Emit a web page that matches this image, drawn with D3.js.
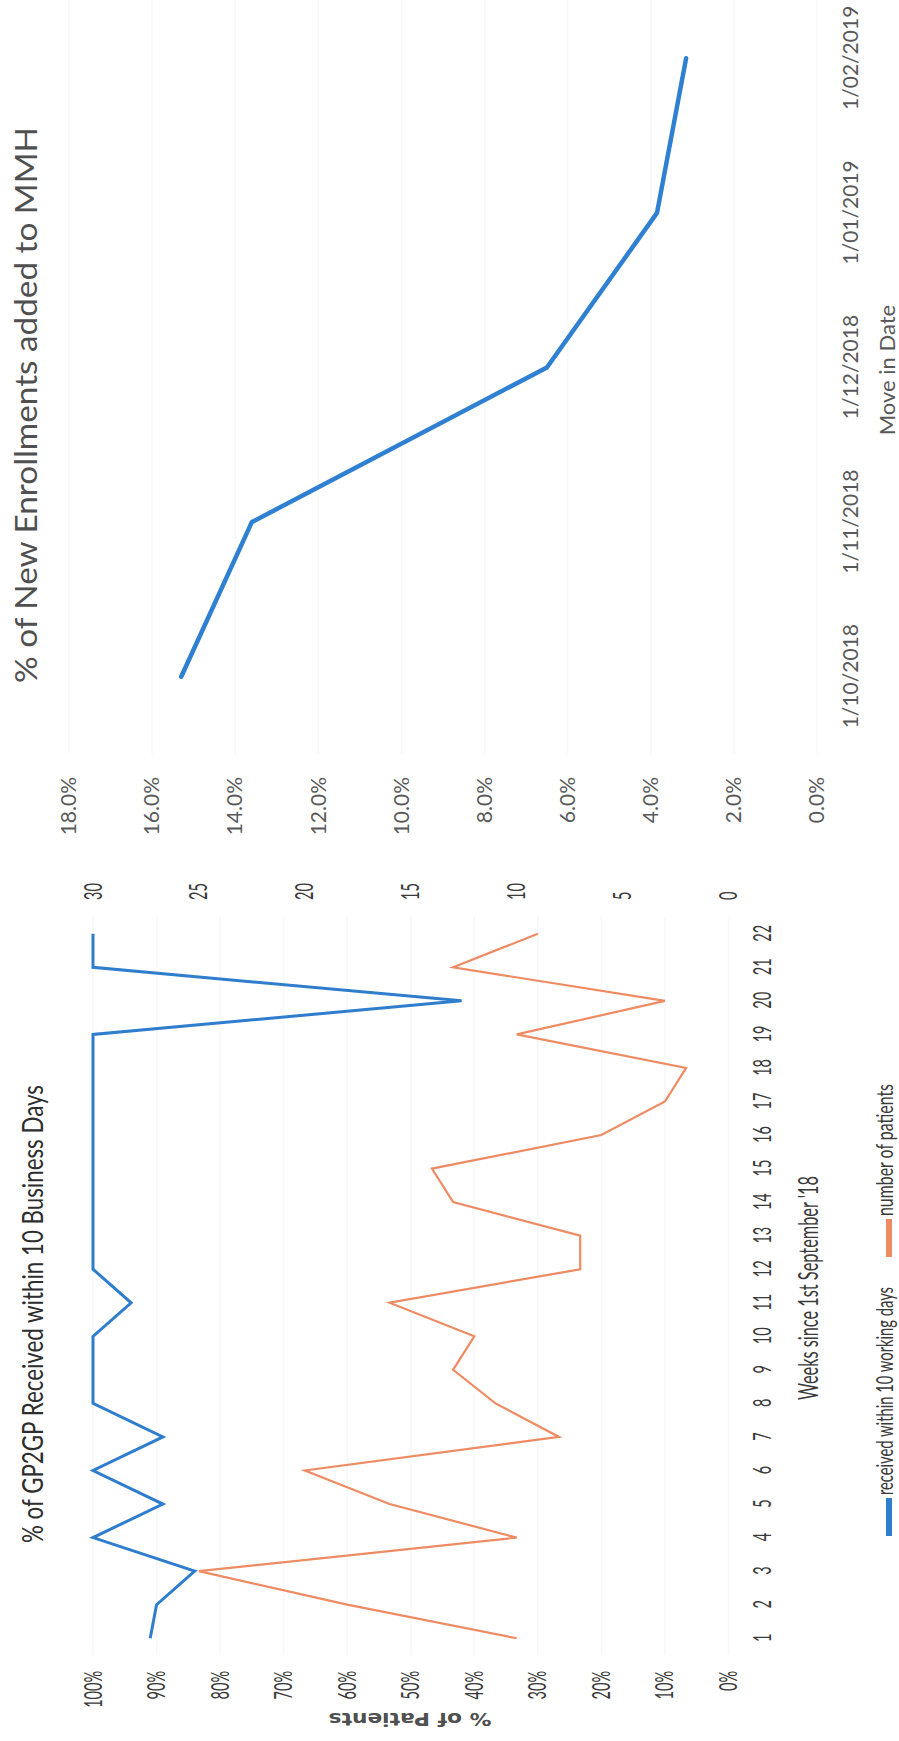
<!DOCTYPE html>
<html>
<head>
<meta charset="utf-8">
<script src="https://cdn.jsdelivr.net/npm/d3@7"></script>
<style>
  html, body { margin: 0; padding: 0; background: #ffffff; }
  svg { display: block; }
</style>
</head>
<body>
<svg id="page" width="899" height="1741"></svg>
<script>
// ---- GP2GP chart data ----
const weekLabels = ["1","2","3","4","5","6","7","8","9","10","11","12","13","14","15","16","17","18","19","20","21","22"];
const pctReceived = [91, 90, 84, 100, 89, 100, 89, 100, 100, 100, 94, 100, 100, 100, 100, 100, 100, 100, 100, 42, 100, 100];
const patientCounts = [10, 18, 25, 10, 16, 20, 8, 11, 13, 12, 16, 7, 7, 13, 14, 6, 3, 2, 10, 3, 13, 9];
const pctTicks = [0, 10, 20, 30, 40, 50, 60, 70, 80, 90, 100];
const countTicks = [0, 5, 10, 15, 20, 25, 30];

// ---- New enrolments chart data ----
const moveInDates = ["1/10/2018", "1/11/2018", "1/12/2018", "1/01/2019", "1/02/2019"];
const enrolmentPct = [15.3, 13.6, 6.5, 3.85, 3.15];
const enrolTicks = [0, 2, 4, 6, 8, 10, 12, 14, 16, 18];

const BLUE = "#2f7dcd";
const ORANGE = "#ee8b63";
const TEXT_DARK = "#3a3a3a";
const TEXT_GREY = "#595959";
const GRID = "#f8f8f8";

// The page is laid out landscape (1741 wide, 899 tall) and turned a quarter turn.
const svg = d3.select("#page");
const page = svg.append("g").attr("transform", "translate(0,1741) rotate(-90)");

// =================== Left chart: GP2GP ===================
const gp = page.append("g");
const xWeek = d3.scalePoint().domain(weekLabels).range([86, 824]).padding(0.5);
const yPct = d3.scaleLinear().domain([0, 100]).range([728.5, 93]);
const yCnt = d3.scaleLinear().domain([0, 30]).range([728.5, 93]);

// horizontal gridlines (very faint)
gp.append("g").selectAll("line").data(pctTicks).join("line")
  .attr("x1", 86).attr("x2", 824)
  .attr("y1", d => yPct(d)).attr("y2", d => yPct(d))
  .attr("stroke", GRID).attr("stroke-width", 1.5);

const squeeze = 0.58;
function styleTicks(g, size, anchor) {
  g.select(".domain").remove();
  g.selectAll("text")
    .attr("font-family", "Lato, 'Open Sans', sans-serif")
    .attr("font-size", size)
    .attr("fill", TEXT_DARK)
    .attr("transform", `scale(${squeeze},1)`);
  if (anchor) g.selectAll("text").attr("text-anchor", anchor);
}

// left % axis
gp.append("g")
  .attr("transform", "translate(70,0)")
  .call(d3.axisLeft(yPct).tickValues(pctTicks).tickFormat(d => d + "%").tickSize(0).tickPadding(0))
  .call(g => styleTicks(g, 25, "end"));

// right count axis
gp.append("g")
  .attr("transform", "translate(841,0)")
  .call(d3.axisRight(yCnt).tickValues(countTicks).tickSize(0).tickPadding(0))
  .call(g => styleTicks(g, 25, "start"));

// week axis
gp.append("g")
  .attr("transform", "translate(0,728.5)")
  .call(d3.axisBottom(xWeek).tickSize(0).tickPadding(25))
  .call(g => styleTicks(g, 25, "middle"));

// series lines
const lineCnt = d3.line()
  .x((d, i) => xWeek(weekLabels[i]))
  .y(d => yCnt(d));
const linePct = d3.line()
  .x((d, i) => xWeek(weekLabels[i]))
  .y(d => yPct(d));

gp.append("path").datum(patientCounts)
  .attr("d", lineCnt)
  .attr("fill", "none").attr("stroke", ORANGE)
  .attr("stroke-width", 2.2).attr("stroke-linejoin", "miter");

gp.append("path").datum(pctReceived)
  .attr("d", linePct)
  .attr("fill", "none").attr("stroke", BLUE)
  .attr("stroke-width", 3).attr("stroke-linejoin", "miter");

// title
gp.append("text")
  .attr("x", 198).attr("y", 43)
  .attr("font-family", "Lato, 'Open Sans', sans-serif")
  .attr("font-size", 29)
  .attr("fill", "#2e2e2e")
  .attr("textLength", 458).attr("lengthAdjust", "spacingAndGlyphs")
  .text("% of GP2GP Received within 10 Business Days");

// y axis title
gp.append("text")
  .attr("transform", "translate(28,410) rotate(-90)")
  .attr("text-anchor", "middle")
  .attr("font-family", "'DejaVu Sans', Verdana, sans-serif")
  .attr("font-weight", "bold")
  .attr("font-size", 17)
  .attr("fill", "#505050")
  .attr("textLength", 163).attr("lengthAdjust", "spacingAndGlyphs")
  .text("% of Patients");

// x axis title
gp.append("text")
  .attr("x", 453).attr("y", 818)
  .attr("text-anchor", "middle")
  .attr("font-family", "Lato, 'Open Sans', sans-serif")
  .attr("font-size", 26)
  .attr("fill", TEXT_DARK)
  .attr("textLength", 224).attr("lengthAdjust", "spacingAndGlyphs")
  .text("Weeks since 1st September '18");

// legend
const legendItems = [
  { label: "received within 10 working days", color: BLUE, u0: 205, len: 208 },
  { label: "number of patients", color: ORANGE, u0: 484, len: 132 }
];
const leg = gp.append("g");
leg.selectAll("line").data(legendItems).join("line")
  .attr("x1", d => d.u0).attr("x2", d => d.u0 + 38)
  .attr("y1", 889).attr("y2", 889)
  .attr("stroke", d => d.color).attr("stroke-width", 6);
leg.selectAll("text").data(legendItems).join("text")
  .attr("x", d => d.u0 + 41).attr("y", 893)
  .attr("font-family", "Lato, 'Open Sans', sans-serif")
  .attr("font-size", 23)
  .attr("fill", TEXT_DARK)
  .attr("textLength", d => d.len).attr("lengthAdjust", "spacingAndGlyphs")
  .text(d => d.label);

// =================== Right chart: new enrolments ===================
const en = page.append("g");
const xDate = d3.scalePoint().domain(moveInDates).range([987, 1760]).padding(0.5);
const yEnr = d3.scaleLinear().domain([0, 18]).range([817, 69]);

en.append("g").selectAll("line").data(enrolTicks).join("line")
  .attr("x1", 987).attr("x2", 1741)
  .attr("y1", d => yEnr(d)).attr("y2", d => yEnr(d))
  .attr("stroke", GRID).attr("stroke-width", 1.5);

en.append("g")
  .attr("transform", "translate(964,0)")
  .call(d3.axisLeft(yEnr).tickValues(enrolTicks).tickFormat(d => d3.format(".1f")(d) + "%").tickSize(0).tickPadding(0))
  .call(g => {
    g.select(".domain").remove();
    g.selectAll("text")
      .attr("font-family", "Lato, 'Open Sans', sans-serif")
      .attr("font-size", 21)
      .attr("fill", TEXT_GREY);
  });

en.append("g")
  .attr("transform", "translate(0,817)")
  .call(d3.axisBottom(xDate).tickSize(0).tickPadding(26))
  .call(g => {
    g.select(".domain").remove();
    g.selectAll("text")
      .attr("font-family", "Lato, 'Open Sans', sans-serif")
      .attr("font-size", 21)
      .attr("fill", TEXT_GREY);
  });

en.append("path").datum(enrolmentPct)
  .attr("d", d3.line().x((d, i) => xDate(moveInDates[i])).y(d => yEnr(d)))
  .attr("fill", "none").attr("stroke", "#3080d2")
  .attr("stroke-width", 4.5)
  .attr("stroke-linejoin", "round").attr("stroke-linecap", "round");

en.append("text")
  .attr("x", 1058).attr("y", 37)
  .attr("font-family", "Lato, 'Open Sans', sans-serif")
  .attr("font-size", 31)
  .attr("fill", "#505050")
  .attr("textLength", 556).attr("lengthAdjust", "spacingAndGlyphs")
  .text("% of New Enrollments added to MMH");

en.append("text")
  .attr("x", 1371).attr("y", 895)
  .attr("text-anchor", "middle")
  .attr("font-family", "Lato, 'Open Sans', sans-serif")
  .attr("font-size", 22)
  .attr("fill", TEXT_GREY)
  .text("Move in Date");
</script>
</body>
</html>
